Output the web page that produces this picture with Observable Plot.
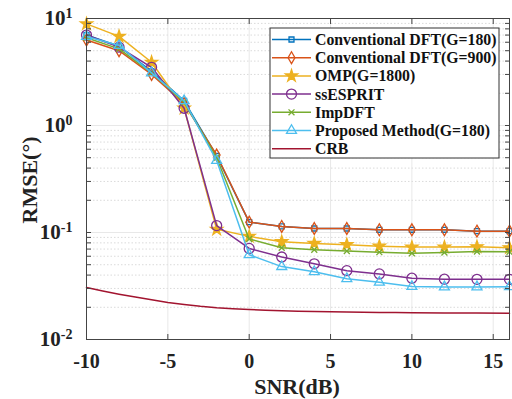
<!DOCTYPE html>
<html><head><meta charset="utf-8">
<script src="https://cdn.jsdelivr.net/npm/d3@7"></script>
<script src="https://cdn.jsdelivr.net/npm/@observablehq/plot@0.6"></script>
<style>
body{margin:0;background:#fff}
#chart{position:relative;width:512px;height:399px;overflow:hidden}
</style>
</head><body><div id="chart"></div>
<script>
// ---- data ----
const snr = [-10,-8,-6,-4,-2,0,2,4,6,8,10,12,14,16];
const dft180   = [7.0,5.5,3.2,1.70,0.52,0.125,0.114,0.109,0.109,0.106,0.106,0.106,0.103,0.103];
const dft900   = [6.3,5.0,3.0,1.60,0.53,0.125,0.114,0.109,0.109,0.106,0.106,0.106,0.103,0.103];
const omp      = [8.9,6.8,3.9,1.45,0.107,0.092,0.082,0.079,0.077,0.0745,0.073,0.073,0.0735,0.072];
const ssesprit = [7.0,5.4,3.5,1.45,0.116,0.071,0.059,0.051,0.044,0.041,0.0374,0.0366,0.0365,0.0365];
const impdft   = [6.6,5.2,3.1,1.65,0.50,0.087,0.072,0.069,0.067,0.0655,0.064,0.065,0.0664,0.066];
const proposed = [6.8,5.6,3.1,1.70,0.47,0.062,0.048,0.043,0.037,0.0343,0.0313,0.031,0.031,0.0311];
const crbSnr = [-10,-9,-8,-7,-6,-5,-4,-3,-2,-1,0,1,2,3,4,5,6,7,8,9,10,12,14,16];
const crb    = [0.0306,0.0284,0.0265,0.0249,0.0235,0.0222,0.0212,0.0204,0.0198,0.0194,0.0191,0.0188,0.0186,0.0184,0.0183,0.01815,0.0181,0.0180,0.0179,0.01785,0.0178,0.0177,0.01765,0.0176];

const names   = ["Conventional DFT(G=180)","Conventional DFT(G=900)","OMP(G=1800)","ssESPRIT","ImpDFT","Proposed Method(G=180)","CRB"];
const colors  = ["#0072BD","#D95319","#EDB120","#7E2F8E","#77AC30","#4DBEEE","#A2142F"];
const symbols = ["square","diamond","star","circle","times","triangle",null];
const xTicks = [-10,-5,0,5,10,15];
const yTicks = [0.01,0.1,1,10];
const yMinor = [2,3,4,5,6,7,8,9].flatMap(m => [0.01,0.1,1].map(d => m*d));

const sizes = {square:2.8, diamond:3.6, star:3.8, circle:5, times:2.8, triangle:3.7};
const valuesList = [dft180, dft900, omp, ssesprit, impdft, proposed];

const font = "Liberation Serif, Times New Roman, serif";
const marks = [
  Plot.ruleY(yMinor, {stroke:"#d0d0d0", strokeDasharray:"1.5,2", strokeWidth:0.8}),
  Plot.ruleY(yTicks, {stroke:"#e2e2e2", strokeWidth:0.8}),
  Plot.ruleX(xTicks, {stroke:"#e2e2e2", strokeWidth:0.8}),
];
valuesList.forEach((vals, k) => {
  const rows = snr.map((x, i) => ({x, y: vals[i]}));
  const sym = symbols[k];
  marks.push(Plot.line(rows, {x:"x", y:"y", stroke:colors[k], strokeWidth:1.5}));
  marks.push(Plot.dot(rows, {x:"x", y:"y", symbol: sym, r: sizes[sym], stroke:colors[k],
    fill: sym === "star" ? colors[k] : "none", strokeWidth:1.3}));
});
marks.push(Plot.line(crbSnr.map((x,i)=>({x, y:crb[i]})), {x:"x", y:"y", stroke:colors[6], strokeWidth:1.5}));
marks.push(
  Plot.axisX({ticks:xTicks, tickSize:0, tickPadding:14, tickFormat: d => String(d), fontSize:20, fontWeight:"bold", fontFamily:font, fill:"#222", label:null}),
  Plot.axisX({ticks:xTicks, tickSize:-5, tickFormat:()=>"", stroke:"#444", label:null}),
  Plot.axisX({anchor:"top", ticks:xTicks, tickSize:-5, tickFormat:()=>"", stroke:"#444", label:null}),
  Plot.axisY({ticks:yTicks, tickSize:0, tickPadding:14, tickFormat: d => "10|" + Math.round(Math.log10(d)), fontSize:21, fontWeight:"bold", fontFamily:font, fill:"#222", label:null}),
  Plot.axisY({ticks:yTicks.concat(yMinor), tickSize:-5, tickFormat:()=>"", stroke:"#444", label:null}),
  Plot.axisY({anchor:"right", ticks:yTicks.concat(yMinor), tickSize:-5, tickFormat:()=>"", stroke:"#444", label:null}),
  Plot.frame({stroke:"#444", strokeWidth:1})
);

const chart = Plot.plot({
  width:512, height:399,
  marginLeft:86, marginRight:3, marginTop:18, marginBottom:60,
  style:{background:"#fff", overflow:"visible"},
  x:{domain:[-10,16]},
  y:{type:"log", domain:[0.01,10]},
  marks
});
document.getElementById("chart").appendChild(chart);

const svg = d3.select(chart);
// superscript exponents on the y tick labels
svg.selectAll('g[aria-label="y-axis tick label"] text').each(function(){
  const t = d3.select(this);
  const parts = t.text().split("|");
  if (parts.length !== 2) return;
  t.text("");
  t.append("tspan").text(parts[0]);
  t.append("tspan").attr("dy","-0.55em").attr("font-size","14px").text(parts[1]);
});

// axis titles
svg.append("text").attr("x", 297).attr("y", 394).attr("text-anchor","middle")
  .attr("font-family", font).attr("font-weight","bold").attr("font-size", 22).attr("fill","#222")
  .text("SNR(dB)");
svg.append("text").attr("transform","translate(37,180) rotate(-90)").attr("text-anchor","middle")
  .attr("font-family", font).attr("font-weight","bold").attr("font-size", 22).attr("fill","#222")
  .text("RMSE(°)");

// legend
const lg = svg.append("g").attr("text-anchor","start");
const lx = 270, ly = 28, lw = 229, lh = 130, step = 18.2, y0 = 39.5;
lg.append("rect").attr("x", lx).attr("y", ly).attr("width", lw).attr("height", lh)
  .attr("fill","#fff").attr("stroke","#333").attr("stroke-width",1);
const symMap = {square:d3.symbolSquare, diamond:d3.symbolDiamond, star:d3.symbolStar,
  circle:d3.symbolCircle, times:d3.symbolTimes, triangle:d3.symbolTriangle};
names.forEach((name, k) => {
  const yy = y0 + k*step;
  lg.append("line").attr("x1", 272).attr("x2", 311).attr("y1", yy).attr("y2", yy)
    .attr("stroke", colors[k]).attr("stroke-width", 1.5);
  const sym = symbols[k];
  if (sym) {
    const r = sizes[sym];
    lg.append("path").attr("transform", `translate(291.5,${yy})`)
      .attr("d", d3.symbol().type(symMap[sym]).size(Math.PI*r*r)())
      .attr("stroke", colors[k]).attr("stroke-width", 1.3)
      .attr("fill", sym === "star" ? colors[k] : "none");
  }
  lg.append("text").attr("x", 315).attr("y", yy).attr("dy","0.35em").attr("text-anchor","start")
    .attr("font-family", font).attr("font-weight","bold").attr("font-size", 15.8).attr("fill","#111")
    .text(name);
});
</script>
</body></html>
